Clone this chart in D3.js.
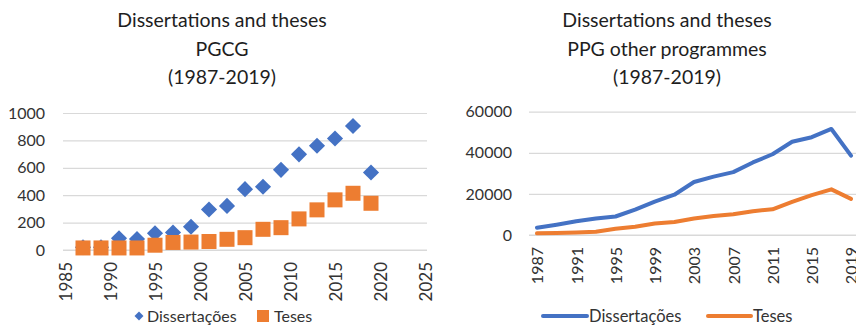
<!DOCTYPE html>
<html>
<head>
<meta charset="utf-8">
<script src="https://cdn.jsdelivr.net/npm/d3@7"></script>
<style>
  html, body { margin: 0; padding: 0; background: #fff; }
  svg { display: block; font-family: Lato, "Open Sans", sans-serif; }
</style>
</head>
<body>
<svg id="chart" width="856" height="326"></svg>
<script>
// PGCG (left panel): biennial counts
const pgcgYears = [1987, 1989, 1991, 1993, 1995, 1997, 1999, 2001, 2003, 2005, 2007, 2009, 2011, 2013, 2015, 2017, 2019];
const pgcgDissertacoes = [20, 20, 85, 80, 122, 128, 170, 296, 322, 444, 462, 585, 698, 761, 814, 905, 566];
const pgcgTeses = [15, 15, 15, 15, 35, 55, 58, 62, 78, 90, 151, 163, 227, 293, 366, 414, 341];
const pgcgXTicks = [1985, 1990, 1995, 2000, 2005, 2010, 2015, 2020, 2025];
const pgcgYTicks = [0, 200, 400, 600, 800, 1000];

// Other PPG programmes (right panel): biennial counts
const ppgYears = [1987, 1989, 1991, 1993, 1995, 1997, 1999, 2001, 2003, 2005, 2007, 2009, 2011, 2013, 2015, 2017, 2019];
const ppgDissertacoes = [3500, 5000, 6700, 8000, 9000, 12300, 16200, 19600, 25800, 28400, 30600, 35300, 39300, 45400, 47600, 51600, 38600];
const ppgTeses = [800, 1000, 1200, 1600, 3000, 4000, 5600, 6300, 8000, 9200, 10100, 11600, 12500, 16100, 19400, 22200, 17600];
const ppgXLabels = [1987, 1991, 1995, 1999, 2003, 2007, 2011, 2015, 2019];
const ppgYTicks = [0, 20000, 40000, 60000];

const BLUE = "#4472C4", ORANGE = "#ED7D31", GRID = "#d9d9d9", TEXT = "#1e1e1e", AXIS = "#333333";
const FONT = "Lato, sans-serif";

const svg = d3.select("#chart");

function title(cx, lines) {
  const t = svg.append("g").attr("fill", TEXT).attr("font-size", 19.5).attr("text-anchor", "middle");
  lines.forEach((s, i) => t.append("text").attr("x", cx).attr("y", 27 + i * 28.5).text(s));
}

// ---------- Left panel: scatter ----------
title(222, ["Dissertations and theses", "PGCG", "(1987-2019)"]);

const xL = d3.scaleLinear().domain([1985, 2025]).range([65, 425]);
const yL = d3.scaleLinear().domain([0, 1000]).range([250, 113]);

const gL = svg.append("g");
gL.append("g")
  .attr("transform", "translate(63,0)")
  .call(d3.axisLeft(yL).tickValues(pgcgYTicks).tickFormat(d3.format("d")).tickSize(-364).tickPadding(18))
  .call(g => g.select(".domain").remove())
  .call(g => g.selectAll(".tick line").attr("stroke", GRID).attr("stroke-width", 1.2))
  .call(g => g.selectAll(".tick text").attr("fill", AXIS).attr("font-size", 16).attr("font-family", FONT));

gL.append("g")
  .attr("transform", "translate(0,250)")
  .call(d3.axisBottom(xL).tickValues(pgcgXTicks).tickFormat(d3.format("d")).tickSize(0))
  .call(g => g.select(".domain").attr("d", "M63,0H427").attr("stroke", GRID).attr("stroke-width", 1.2))
  .call(g => g.selectAll(".tick text")
    .attr("fill", AXIS).attr("font-size", 17).attr("font-family", FONT)
    .attr("text-anchor", "end").attr("transform", "translate(0,12) rotate(-90)")
    .attr("x", 0).attr("y", 0).attr("dy", "0.36em"));

const diamond = d3.symbol().type(d3.symbolSquare).size(130);
gL.append("g").selectAll("path").data(pgcgYears)
  .join("path")
  .attr("d", diamond)
  .attr("transform", (d, i) => `translate(${xL(d)},${yL(pgcgDissertacoes[i])}) rotate(45)`)
  .attr("fill", BLUE);

const sq = 15;
gL.append("g").selectAll("rect").data(pgcgYears)
  .join("rect")
  .attr("x", d => xL(d) - sq / 2)
  .attr("y", (d, i) => yL(pgcgTeses[i]) - sq / 2)
  .attr("width", sq).attr("height", sq)
  .attr("fill", ORANGE);

// legend
const legL = svg.append("g").attr("font-size", 16).attr("fill", AXIS);
legL.append("path").attr("d", d3.symbol().type(d3.symbolSquare).size(40))
  .attr("transform", "translate(139,316) rotate(45)").attr("fill", BLUE);
legL.append("text").attr("x", 147).attr("y", 316).attr("dy", "0.35em").text("Dissertações");
legL.append("rect").attr("x", 257).attr("y", 310).attr("width", 12).attr("height", 12).attr("fill", ORANGE);
legL.append("text").attr("x", 274).attr("y", 316).attr("dy", "0.35em").text("Teses");

// ---------- Right panel: lines ----------
title(667, ["Dissertations and theses", "PPG other programmes", "(1987-2019)"]);

const xR = d3.scalePoint().domain(ppgYears).range([537, 851]);
const yR = d3.scaleLinear().domain([0, 60000]).range([235, 111.7]);

const gR = svg.append("g");
gR.append("g")
  .attr("transform", "translate(529,0)")
  .call(d3.axisLeft(yR).tickValues(ppgYTicks).tickFormat(d3.format("d")).tickSize(-330).tickPadding(17))
  .call(g => g.select(".domain").remove())
  .call(g => g.selectAll(".tick line").attr("stroke", GRID).attr("stroke-width", 1.2))
  .call(g => g.selectAll(".tick text").attr("fill", AXIS).attr("font-size", 16).attr("font-family", FONT));

gR.append("g")
  .attr("transform", "translate(0,235)")
  .call(d3.axisBottom(xR).tickValues(ppgXLabels).tickFormat(d3.format("d")).tickSize(0))
  .call(g => g.select(".domain").attr("d", "M529,0H856").attr("stroke", GRID).attr("stroke-width", 1.2))
  .call(g => g.selectAll(".tick text")
    .attr("fill", AXIS).attr("font-size", 16).attr("font-family", FONT)
    .attr("text-anchor", "end").attr("transform", "translate(0,12) rotate(-90)")
    .attr("x", 0).attr("y", 0).attr("dy", "0.36em"));

const lineR = vals => d3.line().x((d, i) => xR(ppgYears[i])).y(d => yR(d))(vals);
gR.append("path").attr("d", lineR(ppgTeses)).attr("fill", "none")
  .attr("stroke", ORANGE).attr("stroke-width", 4).attr("stroke-linejoin", "round").attr("stroke-linecap", "round");
gR.append("path").attr("d", lineR(ppgDissertacoes)).attr("fill", "none")
  .attr("stroke", BLUE).attr("stroke-width", 4).attr("stroke-linejoin", "round").attr("stroke-linecap", "round");

const legR = svg.append("g").attr("font-size", 16.5).attr("fill", AXIS);
legR.append("line").attr("x1", 543).attr("x2", 587).attr("y1", 316).attr("y2", 316)
  .attr("stroke", BLUE).attr("stroke-width", 4).attr("stroke-linecap", "round");
legR.append("text").attr("x", 589).attr("y", 316).attr("dy", "0.35em").text("Dissertações");
legR.append("line").attr("x1", 708).attr("x2", 751).attr("y1", 316).attr("y2", 316)
  .attr("stroke", ORANGE).attr("stroke-width", 4).attr("stroke-linecap", "round");
legR.append("text").attr("x", 753).attr("y", 316).attr("dy", "0.35em").text("Teses");
</script>
</body>
</html>
